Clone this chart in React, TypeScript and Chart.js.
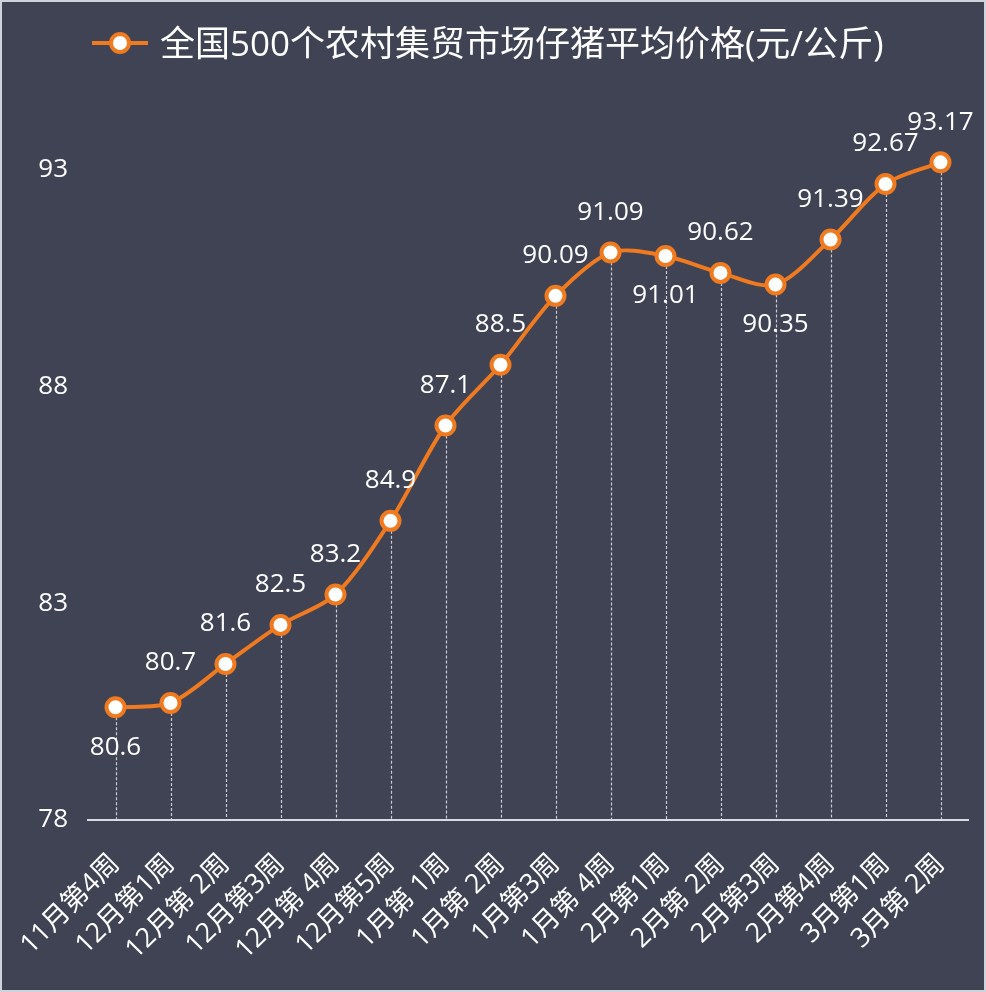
import React, { useEffect, useRef } from 'react';
import { Chart, registerables } from 'chart.js';

Chart.register(...registerables);

const categories = [
  '11月第4周', '12月第1周', '12月第 2周', '12月第3周', '12月第 4周', '12月第5周',
  '1月第 1周', '1月第 2周', '1月第3周', '1月第 4周', '2月第1周', '2月第 2周',
  '2月第3周', '2月第4周', '3月第1周', '3月第 2周',
];
const prices = [80.6, 80.7, 81.6, 82.5, 83.2, 84.9, 87.1, 88.5, 90.09, 91.09, 91.01, 90.62, 90.35, 91.39, 92.67, 93.17];
const priceLabels = ['80.6', '80.7', '81.6', '82.5', '83.2', '84.9', '87.1', '88.5', '90.09', '91.09', '91.01', '90.62', '90.35', '91.39', '92.67', '93.17'];
const labelBelow = [true, false, false, false, false, false, false, false, false, false, true, false, true, false, false, false];
const yTicks = [78, 83, 88, 93];
const yMin = 78;
const yMax = 95;
const seriesName = '全国500个农村集贸市场仔猪平均价格(元/公斤)';

const BG = '#3f4354';
const ORANGE = '#ef7a1f';
const TEXT = '#ffffff';
const FONT = '"Open Sans", "Noto Sans CJK SC", sans-serif';

const backgroundPlugin = {
  id: 'bg',
  beforeDraw(chart: any) {
    const { ctx, width, height } = chart;
    ctx.save();
    ctx.fillStyle = BG;
    ctx.fillRect(0, 0, width, height);
    ctx.strokeStyle = '#cfd3db';
    ctx.lineWidth = 2;
    ctx.strokeRect(1, 1, width - 2, height - 2);
    ctx.restore();
  },
};

const dropLinesPlugin = {
  id: 'dropLines',
  beforeDatasetsDraw(chart: any) {
    const { ctx, chartArea } = chart;
    const meta = chart.getDatasetMeta(0);
    ctx.save();
    ctx.strokeStyle = 'rgba(220,220,228,0.9)';
    ctx.lineWidth = 1.2;
    ctx.setLineDash([3, 2]);
    meta.data.forEach((pt: any) => {
      ctx.beginPath();
      ctx.moveTo(Math.round(pt.x) + 0.5, pt.y);
      ctx.lineTo(Math.round(pt.x) + 0.5, chartArea.bottom);
      ctx.stroke();
    });
    ctx.restore();
  },
};

const dataLabelsPlugin = {
  id: 'dataLabels',
  afterDatasetsDraw(chart: any) {
    const { ctx } = chart;
    const meta = chart.getDatasetMeta(0);
    ctx.save();
    ctx.fillStyle = TEXT;
    ctx.font = `26px ${FONT}`;
    ctx.textAlign = 'center';
    ctx.textBaseline = 'middle';
    meta.data.forEach((pt: any, i: number) => {
      const dy = labelBelow[i] ? 40 : -40;
      ctx.fillText(priceLabels[i], pt.x, pt.y + dy);
    });
    ctx.restore();
  },
};

const legendPlugin = {
  id: 'customLegend',
  afterDraw(chart: any) {
    const { ctx } = chart;
    ctx.save();
    const cy = 43;
    ctx.strokeStyle = ORANGE;
    ctx.lineWidth = 4;
    ctx.beginPath();
    ctx.moveTo(92, cy);
    ctx.lineTo(148, cy);
    ctx.stroke();
    ctx.beginPath();
    ctx.arc(120, cy, 9, 0, Math.PI * 2);
    ctx.fillStyle = '#ffffff';
    ctx.fill();
    ctx.stroke();
    ctx.fillStyle = TEXT;
    ctx.font = `35px ${FONT}`;
    ctx.textAlign = 'left';
    ctx.textBaseline = 'middle';
    ctx.fillText(seriesName, 160, 46);
    ctx.restore();
  },
};

export default function App() {
  const ref = useRef<HTMLCanvasElement | null>(null);

  useEffect(() => {
    if (!ref.current) return;
    const chart = new Chart(ref.current, {
      type: 'line',
      data: {
        labels: categories,
        datasets: [
          {
            label: seriesName,
            data: prices,
            borderColor: ORANGE,
            borderWidth: 4,
            tension: 0.3,
            pointRadius: 9,
            pointHoverRadius: 9,
            pointBorderWidth: 4,
            pointBackgroundColor: '#ffffff',
            pointBorderColor: ORANGE,
            fill: false,
          },
        ],
      },
      options: {
        animation: false,
        responsive: true,
        maintainAspectRatio: false,
        layout: { padding: { left: 8, right: 18, top: 83, bottom: 0 } },
        plugins: {
          legend: { display: false },
          tooltip: { enabled: false },
        },
        scales: {
          x: {
            offset: true,
            grid: { display: false, drawTicks: false },
            border: { display: true, color: '#d9dbe3', width: 2 },
            ticks: {
              color: TEXT,
              font: { size: 27, family: FONT },
              minRotation: 45,
              maxRotation: 45,
              padding: 28,
              autoSkip: false,
            },
            afterFit: (s: any) => {
              s.height = 172;
              s.paddingLeft = 0;
              s.paddingRight = 0;
            },
          },
          y: {
            min: yMin,
            max: yMax,
            grid: { display: false, drawTicks: false },
            border: { display: false },
            ticks: {
              color: TEXT,
              font: { size: 26, family: FONT },
              padding: 20,
            },
            afterBuildTicks: (s: any) => {
              s.ticks = yTicks.map((v) => ({ value: v }));
            },
            afterFit: (s: any) => {
              s.width = 80;
              s.paddingTop = 0;
              s.paddingBottom = 0;
            },
          },
        },
      },
      plugins: [backgroundPlugin, dropLinesPlugin, dataLabelsPlugin, legendPlugin],
    });
    return () => chart.destroy();
  }, []);

  return (
    <div style={{ position: 'fixed', left: 0, top: 0, width: 986, height: 992 }}>
      <canvas ref={ref} />
    </div>
  );
}
